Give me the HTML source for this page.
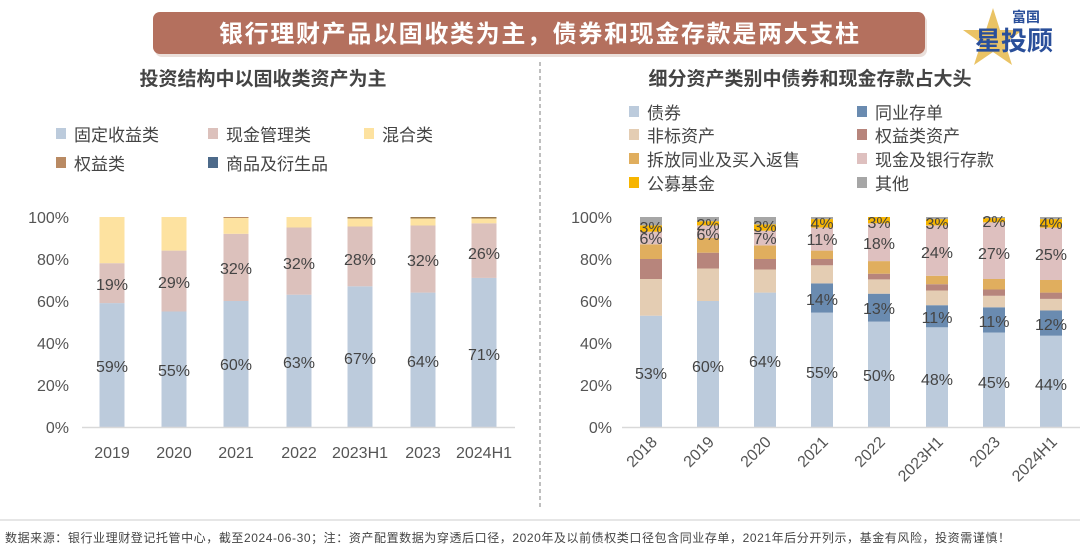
<!DOCTYPE html>
<html><head><meta charset="utf-8"><style>
body{margin:0;background:#fff;}
svg{display:block;font-family:"Liberation Sans","Noto Sans CJK SC",sans-serif;}
</style></head><body>
<svg width="1080" height="557" viewBox="0 0 1080 557" xmlns="http://www.w3.org/2000/svg">
<rect width="1080" height="557" fill="#fff"/>
<!-- banner -->
<rect x="155" y="15" width="772" height="42" rx="7" fill="#eadfda"/>
<rect x="153" y="12" width="772" height="42" rx="7" fill="#b4705e"/>
<text x="539" y="42" font-size="24" font-weight="bold" fill="#fff" text-anchor="middle" textLength="640">银行理财产品以固收类为主，债券和现金存款是两大支柱</text>
<!-- logo -->
<polygon points="993,8 1000,30 1023,30 1005,43 1012,65 993,52 974,65 981,43 963,30 986,30" fill="#e6b84a" opacity="0.85"/>
<text x="1012" y="22" font-size="14" font-weight="bold" fill="#2a4f9a">富国</text>
<text x="975" y="50" font-size="26" font-weight="bold" fill="#2a4f9a">星投顾</text>
<!-- divider -->
<line x1="540" y1="62" x2="540" y2="510" stroke="#aaa" stroke-width="1.5" stroke-dasharray="4,3"/>
<!-- subtitles -->
<text x="263" y="85" font-size="19" font-weight="bold" fill="#444" text-anchor="middle">投资结构中以固收类资产为主</text>
<text x="810" y="85" font-size="19" font-weight="bold" fill="#444" text-anchor="middle">细分资产类别中债券和现金存款占大头</text>
<!-- left legend -->
<g font-size="17" fill="#444">
<rect x="56" y="128" width="10" height="11" fill="#bccbdc"/><text x="74" y="141">固定收益类</text>
<rect x="208" y="128" width="10" height="11" fill="#dcc1bc"/><text x="226" y="141">现金管理类</text>
<rect x="364" y="128" width="10" height="11" fill="#fde2a0"/><text x="382" y="141">混合类</text>
<rect x="56" y="157" width="10" height="11" fill="#b98a63"/><text x="74" y="170">权益类</text>
<rect x="208" y="157" width="10" height="11" fill="#4d6a8a"/><text x="226" y="170">商品及衍生品</text>
</g>
<!-- right legend -->
<g font-size="17" fill="#444">
<rect x="629" y="106" width="10" height="11" fill="#bccbdc"/><text x="647" y="119">债券</text>
<rect x="857" y="106" width="10" height="11" fill="#6a8bb0"/><text x="875" y="119">同业存单</text>
<rect x="629" y="129" width="10" height="11" fill="#e4cdb3"/><text x="647" y="142">非标资产</text>
<rect x="857" y="129" width="10" height="11" fill="#b7857c"/><text x="875" y="142">权益类资产</text>
<rect x="629" y="153" width="10" height="11" fill="#e0ae5e"/><text x="647" y="166">拆放同业及买入返售</text>
<rect x="857" y="153" width="10" height="11" fill="#dec0bf"/><text x="875" y="166">现金及银行存款</text>
<rect x="629" y="177" width="10" height="11" fill="#f7b500"/><text x="647" y="190">公募基金</text>
<rect x="857" y="177" width="10" height="11" fill="#a6a6a6"/><text x="875" y="190">其他</text>
</g>
<!-- left y axis labels -->
<g font-size="16" fill="#555" text-anchor="end">
<text x="69" y="223">100%</text><text x="69" y="265">80%</text><text x="69" y="307">60%</text>
<text x="69" y="349">40%</text><text x="69" y="391">20%</text><text x="69" y="433">0%</text>
</g>
<!-- left bars -->
<g>
<rect x="99.5" y="303.1" width="25" height="123.9" fill="#bccbdc"/><rect x="99.5" y="263.2" width="25" height="39.9" fill="#dcc1bc"/><rect x="99.5" y="217" width="25" height="46.2" fill="#fde2a0"/>
<rect x="161.5" y="311.5" width="25" height="115.5" fill="#bccbdc"/><rect x="161.5" y="250.6" width="25" height="60.9" fill="#dcc1bc"/><rect x="161.5" y="217" width="25" height="33.6" fill="#fde2a0"/>
<rect x="223.5" y="301" width="25" height="126" fill="#bccbdc"/><rect x="223.5" y="233.8" width="25" height="67.2" fill="#dcc1bc"/><rect x="223.5" y="218" width="25" height="15.8" fill="#fde2a0"/><rect x="223.5" y="217" width="25" height="1" fill="#b98a63"/>
<rect x="286.5" y="294.7" width="25" height="132.3" fill="#bccbdc"/><rect x="286.5" y="227.5" width="25" height="67.2" fill="#dcc1bc"/><rect x="286.5" y="217" width="25" height="10.5" fill="#fde2a0"/>
<rect x="347.5" y="286.3" width="25" height="140.7" fill="#bccbdc"/><rect x="347.5" y="226.5" width="25" height="59.8" fill="#dcc1bc"/><rect x="347.5" y="218.5" width="25" height="8" fill="#fde2a0"/><rect x="347.5" y="217" width="25" height="1.5" fill="#9a7a50"/>
<rect x="410.5" y="292.6" width="25" height="134.4" fill="#bccbdc"/><rect x="410.5" y="225.4" width="25" height="67.2" fill="#dcc1bc"/><rect x="410.5" y="218.5" width="25" height="7" fill="#fde2a0"/><rect x="410.5" y="217" width="25" height="1.5" fill="#9a7a50"/>
<rect x="471.5" y="277.9" width="25" height="149.1" fill="#bccbdc"/><rect x="471.5" y="223.3" width="25" height="54.6" fill="#dcc1bc"/><rect x="471.5" y="218.5" width="25" height="4.8" fill="#fde2a0"/><rect x="471.5" y="217" width="25" height="1.5" fill="#9a7a50"/>
</g>
<line x1="82" y1="427.5" x2="515" y2="427.5" stroke="#d9d9d9" stroke-width="1.5"/>
<g font-size="16" fill="#444" text-anchor="middle">
<text x="112" y="372">59%</text><text x="112" y="290">19%</text>
<text x="174" y="376">55%</text><text x="174" y="288">29%</text>
<text x="236" y="370">60%</text><text x="236" y="274">32%</text>
<text x="299" y="368">63%</text><text x="299" y="269">32%</text>
<text x="360" y="364">67%</text><text x="360" y="265">28%</text>
<text x="423" y="367">64%</text><text x="423" y="266">32%</text>
<text x="484" y="360">71%</text><text x="484" y="259">26%</text>
</g>
<g font-size="16" fill="#555" text-anchor="middle">
<text x="112" y="458">2019</text><text x="174" y="458">2020</text><text x="236" y="458">2021</text>
<text x="299" y="458">2022</text><text x="360" y="458">2023H1</text><text x="423" y="458">2023</text><text x="484" y="458">2024H1</text>
</g>
<!-- right y axis -->
<g font-size="16" fill="#555" text-anchor="end">
<text x="612" y="223">100%</text><text x="612" y="265">80%</text><text x="612" y="307">60%</text>
<text x="612" y="349">40%</text><text x="612" y="391">20%</text><text x="612" y="433">0%</text>
</g>
<!-- right bars -->
<g>
<rect x="640" y="315.7" width="22" height="111.3" fill="#bccbdc"/><rect x="640" y="279" width="22" height="36.7" fill="#e4cdb3"/><rect x="640" y="259" width="22" height="20" fill="#b7857c"/><rect x="640" y="244.3" width="22" height="14.7" fill="#e0ae5e"/><rect x="640" y="231.7" width="22" height="12.6" fill="#dec0bf"/><rect x="640" y="225.4" width="22" height="6.3" fill="#f7b500"/><rect x="640" y="217" width="22" height="8.4" fill="#a6a6a6"/>
<rect x="697" y="301" width="22" height="126" fill="#bccbdc"/><rect x="697" y="268.5" width="22" height="32.5" fill="#e4cdb3"/><rect x="697" y="252.7" width="22" height="15.8" fill="#b7857c"/><rect x="697" y="238" width="22" height="14.7" fill="#e0ae5e"/><rect x="697" y="225.4" width="22" height="12.6" fill="#dec0bf"/><rect x="697" y="221.2" width="22" height="4.2" fill="#f7b500"/><rect x="697" y="217" width="22" height="4.2" fill="#a6a6a6"/>
<rect x="754" y="292.6" width="22" height="134.4" fill="#bccbdc"/><rect x="754" y="269.5" width="22" height="23.1" fill="#e4cdb3"/><rect x="754" y="259" width="22" height="10.5" fill="#b7857c"/><rect x="754" y="245.4" width="22" height="13.6" fill="#e0ae5e"/><rect x="754" y="230.7" width="22" height="14.7" fill="#dec0bf"/><rect x="754" y="224.4" width="22" height="6.3" fill="#f7b500"/><rect x="754" y="217" width="22" height="7.4" fill="#a6a6a6"/>
<rect x="811" y="312.6" width="22" height="114.4" fill="#bccbdc"/><rect x="811" y="283.4" width="22" height="29.2" fill="#6a8bb0"/><rect x="811" y="265.3" width="22" height="18.1" fill="#e4cdb3"/><rect x="811" y="259" width="22" height="6.3" fill="#b7857c"/><rect x="811" y="250.6" width="22" height="8.4" fill="#e0ae5e"/><rect x="811" y="227.5" width="22" height="23.1" fill="#dec0bf"/><rect x="811" y="219.1" width="22" height="8.4" fill="#f7b500"/><rect x="811" y="217" width="22" height="2.1" fill="#a6a6a6"/>
<rect x="868" y="321.6" width="22" height="105.4" fill="#bccbdc"/><rect x="868" y="293.7" width="22" height="27.9" fill="#6a8bb0"/><rect x="868" y="279.4" width="22" height="14.3" fill="#e4cdb3"/><rect x="868" y="273.7" width="22" height="5.7" fill="#b7857c"/><rect x="868" y="261.1" width="22" height="12.6" fill="#e0ae5e"/><rect x="868" y="223.3" width="22" height="37.8" fill="#dec0bf"/><rect x="868" y="217" width="22" height="6.3" fill="#f7b500"/>
<rect x="926" y="327.3" width="22" height="99.7" fill="#bccbdc"/><rect x="926" y="305.2" width="22" height="22.1" fill="#6a8bb0"/><rect x="926" y="290.5" width="22" height="14.7" fill="#e4cdb3"/><rect x="926" y="284.2" width="22" height="6.3" fill="#b7857c"/><rect x="926" y="275.8" width="22" height="8.4" fill="#e0ae5e"/><rect x="926" y="225.4" width="22" height="50.4" fill="#dec0bf"/><rect x="926" y="219.1" width="22" height="6.3" fill="#f7b500"/><rect x="926" y="217" width="22" height="2.1" fill="#a6a6a6"/>
<rect x="983" y="332.5" width="22" height="94.5" fill="#bccbdc"/><rect x="983" y="307.3" width="22" height="25.2" fill="#6a8bb0"/><rect x="983" y="295.8" width="22" height="11.5" fill="#e4cdb3"/><rect x="983" y="289.5" width="22" height="6.3" fill="#b7857c"/><rect x="983" y="279" width="22" height="10.5" fill="#e0ae5e"/><rect x="983" y="222.3" width="22" height="56.7" fill="#dec0bf"/><rect x="983" y="218.1" width="22" height="4.2" fill="#f7b500"/><rect x="983" y="217" width="22" height="1.1" fill="#a6a6a6"/>
<rect x="1040" y="335.7" width="22" height="91.3" fill="#bccbdc"/><rect x="1040" y="310.5" width="22" height="25.2" fill="#6a8bb0"/><rect x="1040" y="298.9" width="22" height="11.6" fill="#e4cdb3"/><rect x="1040" y="292.6" width="22" height="6.3" fill="#b7857c"/><rect x="1040" y="280" width="22" height="12.6" fill="#e0ae5e"/><rect x="1040" y="227.5" width="22" height="52.5" fill="#dec0bf"/><rect x="1040" y="219.1" width="22" height="8.4" fill="#f7b500"/><rect x="1040" y="217" width="22" height="2.1" fill="#a6a6a6"/>
</g>
<line x1="622" y1="427.5" x2="1080" y2="427.5" stroke="#d9d9d9" stroke-width="1.5"/>
<g font-size="16" fill="#444" text-anchor="middle">
<text x="651" y="379">53%</text><text x="651" y="244">6%</text><text x="651" y="233">3%</text>
<text x="708" y="372">60%</text><text x="708" y="240">6%</text><text x="708" y="230">2%</text>
<text x="765" y="367">64%</text><text x="765" y="244">7%</text><text x="765" y="232">3%</text>
<text x="822" y="378">55%</text><text x="822" y="305">14%</text><text x="822" y="245">11%</text><text x="822" y="229">4%</text>
<text x="879" y="381">50%</text><text x="879" y="314">13%</text><text x="879" y="249">18%</text><text x="879" y="228">3%</text>
<text x="937" y="385">48%</text><text x="937" y="323">11%</text><text x="937" y="258">24%</text><text x="937" y="229">3%</text>
<text x="994" y="388">45%</text><text x="994" y="327">11%</text><text x="994" y="259">27%</text><text x="994" y="227">2%</text>
<text x="1051" y="390">44%</text><text x="1051" y="330">12%</text><text x="1051" y="260">25%</text><text x="1051" y="229">4%</text>
</g>
<g font-size="16" fill="#555" text-anchor="end">
<text transform="translate(658,443) rotate(-45)">2018</text>
<text transform="translate(715,443) rotate(-45)">2019</text>
<text transform="translate(772,443) rotate(-45)">2020</text>
<text transform="translate(829,443) rotate(-45)">2021</text>
<text transform="translate(886,443) rotate(-45)">2022</text>
<text transform="translate(944,443) rotate(-45)">2023H1</text>
<text transform="translate(1001,443) rotate(-45)">2023</text>
<text transform="translate(1058,443) rotate(-45)">2024H1</text>
</g>
<!-- footer -->
<line x1="0" y1="520" x2="1080" y2="520" stroke="#ddd" stroke-width="1.5"/>
<text x="5" y="542" font-size="12" fill="#444" textLength="1005">数据来源：银行业理财登记托管中心，截至2024-06-30；注：资产配置数据为穿透后口径，2020年及以前债权类口径包含同业存单，2021年后分开列示，基金有风险，投资需谨慎！</text>
</svg>
</body></html>
